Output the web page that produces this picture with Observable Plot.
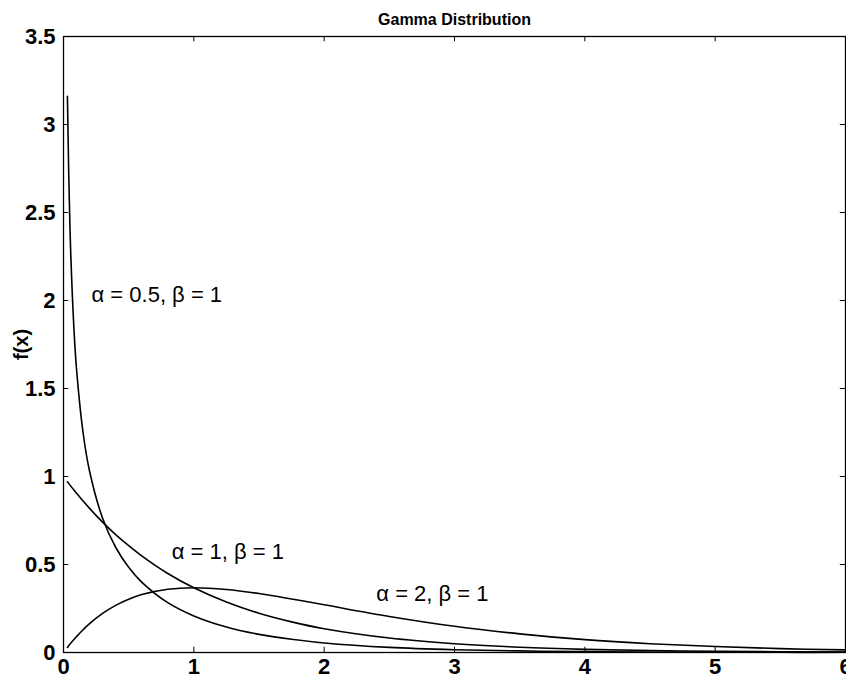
<!DOCTYPE html>
<html>
<head>
<meta charset="utf-8">
<script src="https://cdn.jsdelivr.net/npm/d3@7"></script>
<script src="https://cdn.jsdelivr.net/npm/@observablehq/plot@0.6"></script>
<style>
  html, body { margin: 0; padding: 0; background: #fff; }
  svg { font-family: "Liberation Sans", Arial, Helvetica, sans-serif; }
</style>
</head>
<body>
<div id="chart"></div>
<script>
// x positions where values were read
const xs = [0.03, 0.05, 0.08, 0.1, 0.15, 0.2, 0.3, 0.4, 0.5, 0.6, 0.8, 1.0, 1.25, 1.5, 1.75, 2.0, 2.5, 3.0, 3.5, 4.0, 4.5, 5.0, 5.5, 6.0];
// series values
const alphaHalf = [3.16, 2.40, 1.84, 1.61, 1.25, 1.03, 0.763, 0.598, 0.484, 0.400, 0.283, 0.208, 0.145, 0.103, 0.075, 0.054, 0.029, 0.016, 0.009, 0.005, 0.003, 0.002, 0.001, 0.001];
const alphaOne  = [0.970, 0.951, 0.923, 0.905, 0.861, 0.819, 0.741, 0.670, 0.607, 0.549, 0.449, 0.368, 0.287, 0.223, 0.174, 0.135, 0.082, 0.050, 0.030, 0.018, 0.011, 0.007, 0.004, 0.003];
const alphaTwo  = [0.029, 0.048, 0.074, 0.090, 0.129, 0.164, 0.222, 0.268, 0.303, 0.329, 0.359, 0.368, 0.358, 0.335, 0.304, 0.271, 0.205, 0.149, 0.106, 0.073, 0.050, 0.034, 0.022, 0.015];

const xTicks = [0, 1, 2, 3, 4, 5, 6];
const yTicks = [0, 0.5, 1, 1.5, 2, 2.5, 3, 3.5];

const labelText = ["α = 0.5, β = 1", "α = 1, β = 1", "α = 2, β = 1"];
const labelX = [0.215, 0.83, 2.4];
const labelY = [2.03, 0.57, 0.335];

const titleText = "Gamma Distribution";
const yLabelText = "f(x)";

const seriesList = [alphaHalf, alphaOne, alphaTwo];
const lineData = seriesList.flatMap((vals, s) => xs.map((x, i) => ({x, y: vals[i], s})));
const labels = labelText.map((t, i) => ({t, x: labelX[i], y: labelY[i]}));

const tickLenX = 0.03;   // in y units
const tickLenY = 0.04;   // in x units

const chart = Plot.plot({
  width: 846,
  height: 680,
  marginLeft: 63,
  marginRight: 1,
  marginTop: 36,
  marginBottom: 28,
  style: {fontFamily: "'Liberation Sans', Arial, sans-serif", background: "#fff", color: "#000"},
  x: {domain: [0, 6]},
  y: {domain: [0, 3.5]},
  marks: [
    Plot.frame({stroke: "#000", strokeWidth: 1.3}),
    Plot.axisX({ticks: xTicks, tickSize: 0, tickPadding: 6, fontSize: 22, fontWeight: "bold", label: null, tickFormat: d3.format("d")}),
    Plot.axisY({ticks: yTicks, tickSize: 0, tickPadding: 8, fontSize: 22, fontWeight: "bold", label: null, tickFormat: d => String(d)}),
    Plot.ruleX(xTicks, {x: d => d, y1: 0, y2: tickLenX, stroke: "#000"}),
    Plot.ruleX(xTicks, {x: d => d, y1: 3.5, y2: 3.5 - tickLenX, stroke: "#000"}),
    Plot.ruleY(yTicks, {y: d => d, x1: 0, x2: tickLenY, stroke: "#000"}),
    Plot.ruleY(yTicks, {y: d => d, x1: 6, x2: 6 - tickLenY, stroke: "#000"}),
    Plot.line(lineData, {x: "x", y: "y", z: "s", stroke: "#000", strokeWidth: 1.6, curve: "catmull-rom"}),
    Plot.text(labels, {x: "x", y: "y", text: "t", textAnchor: "start", fontSize: 22, fill: "#000"}),
    Plot.text([titleText], {frameAnchor: "top", dy: -23, fontSize: 16, fontWeight: "bold", fill: "#000"}),
    Plot.text([yLabelText], {frameAnchor: "left", textAnchor: "middle", dx: -42, rotate: -90, fontSize: 20, fontWeight: "bold", fill: "#000"})
  ]
});
document.getElementById("chart").appendChild(chart);
</script>
</body>
</html>
